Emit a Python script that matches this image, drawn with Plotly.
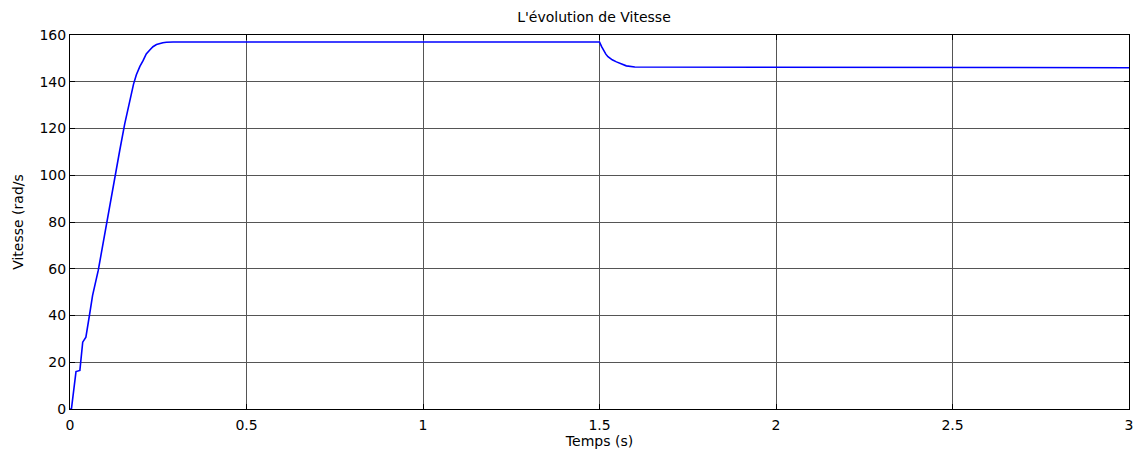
import plotly.graph_objects as go

# Time (s) and speed (rad/s)
temps = [0.0, 0.004, 0.017, 0.028, 0.036, 0.045, 0.055, 0.064, 0.080, 0.089,
         0.105, 0.127, 0.141, 0.155, 0.169, 0.180, 0.188, 0.198, 0.207, 0.216, 0.226,
         0.235, 0.245, 0.254, 0.263, 0.273, 0.292, 0.5, 1.0, 1.5, 1.506, 1.512, 1.518,
         1.524, 1.536, 1.548, 1.562, 1.576, 1.6, 2.0, 2.5, 3.0]
vitesse = [0.0, 0.0, 16.0, 16.5, 28.6, 30.7, 40.0, 48.6, 59.3, 67.0,
           80.7, 100.0, 110.7, 122.0, 132.0, 139.0, 143.0, 146.6, 149.0, 151.9, 153.6,
           155.0, 155.9, 156.4, 156.7, 156.9, 157.0, 157.0, 157.0, 157.0, 155.0, 153.2, 151.8,
           150.7, 149.4, 148.5, 147.5, 146.8, 146.3, 146.2, 146.1, 146.0]

x_ticks = [0, 0.5, 1, 1.5, 2, 2.5, 3]
x_tick_labels = ["0", "0.5", "1", "1.5", "2", "2.5", "3"]
y_ticks = [0, 20, 40, 60, 80, 100, 120, 140, 160]

font = "DejaVu Sans, Arial, sans-serif"

fig = go.Figure()
fig.add_trace(go.Scatter(x=temps, y=vitesse, mode="lines",
                         line=dict(color="#0000ff", width=1.6),
                         showlegend=False))

axis_common = dict(showline=True, linecolor="#000000", linewidth=1,
                   mirror="ticks", ticks="inside", ticklen=5, tickcolor="#000000",
                   showgrid=True, gridcolor="#555555", gridwidth=1,
                   zeroline=False, tickfont=dict(family=font, size=14, color="#000000"))

fig.update_layout(
    width=1140, height=455,
    margin=dict(l=70, r=7, t=35, b=46),
    paper_bgcolor="#ffffff", plot_bgcolor="#ffffff",
    title=dict(text="L'évolution de Vitesse", x=594 / 1140, xanchor="center",
               y=1 - 17 / 455, yanchor="middle",
               font=dict(family=font, size=14, color="#000000")),
    xaxis=dict(range=[0, 3], tickvals=x_ticks, ticktext=x_tick_labels,
               ticklabelstandoff=3,
               title=dict(text="Temps (s)", standoff=1,
                          font=dict(family=font, size=14, color="#000000")),
               **axis_common),
    yaxis=dict(range=[0, 160], tickvals=y_ticks,
               title=dict(text="Vitesse (rad/s", standoff=12,
                          font=dict(family=font, size=14, color="#000000")),
               **axis_common),
)

fig.write_html("out.html")
